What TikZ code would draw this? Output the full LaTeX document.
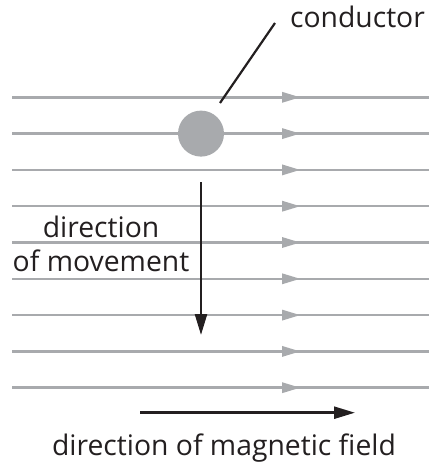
\documentclass[tikz,border=0pt]{standalone}
\usepackage{fontspec}
\setmainfont{Open Sans}
\usetikzlibrary{arrows.meta}
\definecolor{fieldgray}{RGB}{168,170,173}
\definecolor{inkblack}{RGB}{35,31,32}
\tikzset{
  fieldline/.style={fieldgray,line width=2.5pt},
  bigtext/.style={text=inkblack,font=\fontsize{28.3}{34.3}\selectfont},
  blackarrow/.style={inkblack,line width=2.5pt,-{Triangle[length=21pt,width=12pt]}}
}
\begin{document}
\begin{tikzpicture}[x=1pt,y=-1pt]
\def\xl{12}
\def\xr{429}
\def\ytop{97.3}
\def\dy{36.3}
\useasboundingbox (0,0) rectangle (429,466);
% field lines with arrowheads
\foreach \i in {0,...,8}{
  \draw[fieldline] (\xl,\ytop+\i*\dy)--(\xr,\ytop+\i*\dy);
  \fill[fieldgray] (282,\ytop+\i*\dy-5.5)--(300,\ytop+\i*\dy)--(282,\ytop+\i*\dy+5.5)--cycle;
}
% conductor
\node[circle,fill=fieldgray,minimum size=46pt,inner sep=0pt] (cond) at (201,133.6) {};
\node[bigtext,anchor=base,inner sep=0pt] (condlabel) at (357.5,27) {conductor};
\coordinate (leadA) at (220,103);
\coordinate (leadB) at (275,23);
\draw[inkblack,line width=2.2pt] (leadA)--(leadB);
% movement
\coordinate (movetop) at (201,182);
\coordinate (movebot) at (201,335);
\draw[blackarrow] (movetop)--(movebot);
\node[bigtext,align=center,anchor=base] (movelabel) at (101,271.7) {direction\\of movement};
% field direction
\coordinate (fieldA) at (140,412.7);
\coordinate (fieldB) at (355,412.7);
\draw[blackarrow] (fieldA)--(fieldB);
\node[bigtext,anchor=base] (fieldlabel) at (224,455) {direction of magnetic field};
\end{tikzpicture}
\end{document}
